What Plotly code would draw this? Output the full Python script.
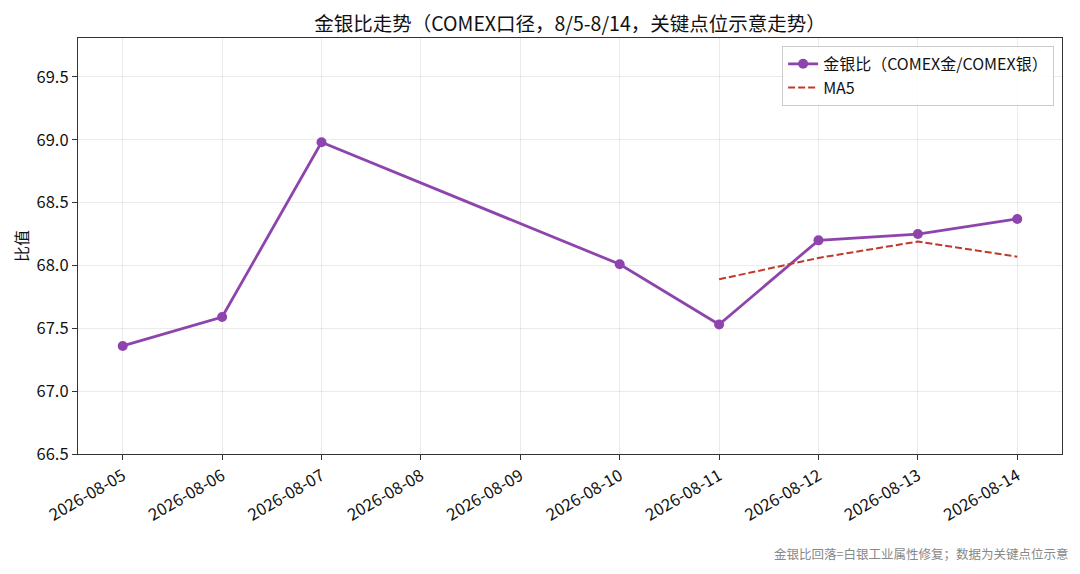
import plotly.graph_objects as go
import pandas as pd

# 金银比关键点位
dates = ["2026-08-05", "2026-08-06", "2026-08-07", "2026-08-10",
         "2026-08-11", "2026-08-12", "2026-08-13", "2026-08-14"]
ratio = [67.36, 67.59, 68.98, 68.01, 67.53, 68.20, 68.25, 68.37]

ma5_dates = ["2026-08-11", "2026-08-12", "2026-08-13", "2026-08-14"]
ma5 = [67.89, 68.06, 68.19, 68.07]

tick_dates = pd.date_range("2026-08-05", "2026-08-14").strftime("%Y-%m-%d").tolist()

FONT = "Noto Sans CJK SC"

fig = go.Figure()
fig.add_trace(go.Scatter(x=dates, y=ratio, mode="lines+markers",
                         name="金银比（COMEX金/COMEX银）",
                         line=dict(color="#8E44AD", width=2.8),
                         marker=dict(size=10, color="#8E44AD")))
fig.add_trace(go.Scatter(x=ma5_dates, y=ma5, mode="lines", name="MA5",
                         line=dict(color="#C0392B", width=2, dash="7px,3px")))

x0 = pd.Timestamp("2026-08-05") - pd.Timedelta(hours=10.8)
x1 = pd.Timestamp("2026-08-14") + pd.Timedelta(hours=10.8)

fig.update_xaxes(type="date", range=[x0, x1], tickvals=tick_dates, ticktext=tick_dates,
                 tickangle=-30, ticks="outside", ticklen=5, tickcolor="#333",
                 showline=True, linecolor="#333", linewidth=1.2, mirror=True,
                 showgrid=True, gridcolor="rgba(0,0,0,0.08)", automargin=False,
                 tickfont=dict(size=16.5, color="#111"))
fig.update_yaxes(range=[66.5, 69.81], dtick=0.5, tickformat=".1f",
                 ticks="outside", ticklen=5, tickcolor="#333",
                 showline=True, linecolor="#333", linewidth=1.2, mirror=True,
                 showgrid=True, gridcolor="rgba(0,0,0,0.08)", zeroline=False,
                 automargin=False, tickfont=dict(size=16.5, color="#111"))

# 页面 body 有 8px 外边距，图整体按此偏移
fig.update_layout(
    width=1064, height=566,
    margin=dict(l=70, r=10, t=30, b=120, autoexpand=False),
    paper_bgcolor="white", plot_bgcolor="white",
    font=dict(family=FONT, color="#111"),
    title=dict(text="金银比走势（COMEX口径，8/5-8/14，关键点位示意走势）",
               x=0.5, xref="paper", y=0.972, yanchor="middle",
               font=dict(size=19.5, color="#111")),
    legend=dict(x=0.992, y=0.981, xanchor="right", yanchor="top",
                bgcolor="rgba(255,255,255,0.85)", bordercolor="#ccc", borderwidth=1,
                font=dict(size=16, color="#111")),
    annotations=[
        dict(text="比值", xref="paper", yref="paper", x=-0.058, y=0.5,
             textangle=-90, xanchor="center", yanchor="middle", showarrow=False,
             font=dict(size=16, color="#111")),
        dict(text="金银比回落=白银工业属性修复；数据为关键点位示意",
             xref="paper", yref="paper", x=1.008, y=-0.238,
             xanchor="right", yanchor="middle", showarrow=False,
             font=dict(size=12.5, color="#888")),
    ],
)

fig.write_html("out.html")
